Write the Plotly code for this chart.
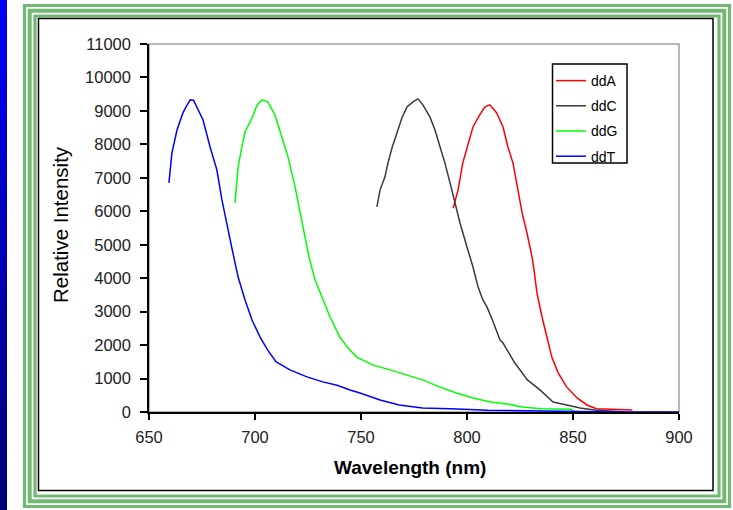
import plotly.graph_objects as go

# ---------------- data ----------------
ddT_wl = [659.4, 660.8, 663.2, 666.0, 668.0, 669.5, 671.0, 672.6, 675.5, 678.8, 682.0, 684.4,
          686.8, 689.0, 692.0, 695.3, 698.6, 702.4, 706.0, 710.0, 716.5, 724.5, 732.0, 738.7,
          744.8, 749.5, 759.0, 768.0, 779.0, 792.0, 810.0, 830.0, 850.0, 870.0, 900.0]
ddT_int = [6850, 7740, 8430, 8940, 9180, 9330, 9320, 9120, 8730, 7920, 7240, 6340,
           5650, 4930, 4040, 3350, 2750, 2240, 1850, 1500, 1260, 1050, 900, 800,
           660, 570, 360, 210, 120, 100, 50, 30, 10, 0, 0]

ddG_wl = [690.6, 692.0, 693.8, 695.3, 698.6, 701.0, 703.3, 706.0, 709.4, 712.7, 715.6, 718.9,
          721.2, 723.6, 725.5, 728.3, 731.6, 735.4, 740.0, 743.9, 748.0, 755.7, 763.7, 771.7,
          779.0, 787.0, 795.0, 803.0, 811.0, 819.0, 826.0, 835.0, 849.0, 851.0]
ddG_int = [6250, 7320, 7920, 8370, 8790, 9180, 9330, 9270, 8880, 8220, 7620, 6730,
           5950, 5230, 4630, 3950, 3440, 2840, 2240, 1910, 1640, 1400, 1260, 1110,
           960, 750, 570, 420, 300, 240, 150, 100, 80, 0]

ddC_wl = [757.5, 759.0, 761.3, 762.7, 764.6, 767.0, 769.3, 771.7, 774.5, 776.9, 779.2, 782.5,
          784.9, 787.3, 789.6, 792.0, 794.3, 796.7, 800.0, 802.8, 805.2, 807.5, 809.4, 812.0,
          815.6, 817.0, 822.5, 828.5, 834.4, 840.6, 847.0, 853.3, 860.0, 869.0, 875.0]
ddC_int = [6130, 6640, 7030, 7440, 7890, 8340, 8790, 9120, 9270, 9360, 9180, 8820,
           8430, 7920, 7440, 6850, 6250, 5650, 4930, 4340, 3740, 3350, 3140, 2750,
           2150, 2060, 1470, 960, 660, 300, 210, 120, 60, 30, 0]

ddA_wl = [793.5, 795.8, 798.0, 800.5, 802.8, 806.0, 808.5, 810.8, 814.0, 817.0, 819.3, 821.7,
          823.6, 826.0, 828.3, 830.7, 831.6, 833.0, 835.4, 837.7, 840.0, 843.0, 847.0, 851.9,
          856.6, 861.0, 870.0, 878.0]
ddA_int = [6100, 6640, 7440, 8040, 8520, 8880, 9120, 9180, 8940, 8520, 7920, 7440,
           6730, 5950, 5350, 4630, 4250, 3560, 2840, 2240, 1640, 1170, 750, 420,
           210, 100, 80, 60]

series_names = ["ddA", "ddC", "ddG", "ddT"]
series_colors = ["#ff0000", "#3a3a3a", "#00ff00", "#0000ff"]
x_ticks = [650, 700, 750, 800, 850, 900]
y_ticks = list(range(0, 11001, 1000))

# ---------------- figure ----------------
W, H = 733, 510
PL, PR, PT, PB = 149, 679, 44, 412  # plot area in pixels

def xp(px):
    return (px - PL) / (PR - PL)

def yp(py):
    return (PB - py) / (PB - PT)

fig = go.Figure()
all_x = [ddA_wl, ddC_wl, ddG_wl, ddT_wl]
all_y = [ddA_int, ddC_int, ddG_int, ddT_int]
for name, color, xs, ys in zip(series_names, series_colors, all_x, all_y):
    fig.add_trace(go.Scatter(x=xs, y=ys, mode="lines", name=name, legendgroup=name,
                             line=dict(color=color, width=1.5)))

FONT = "Liberation Sans, Arial, sans-serif"
shapes = []
# blue gradient strip on the left
n = 30
for i in range(n):
    t = i / (n - 1)
    r, g, b = 0, 0, int(245 - t * (245 - 120))
    y0 = H * i / n
    y1 = H * (i + 1) / n + 0.5
    shapes.append(dict(type="rect", xref="paper", yref="paper",
                       x0=xp(0), x1=xp(7), y0=yp(y0), y1=yp(y1),
                       line=dict(width=0), fillcolor=f"rgb({r},{g},{b})", layer="below"))
# green triple frame
GREEN = "#72b872"
for off, w in [(1.5, 3.2), (6.7, 4.0), (12.0, 3.2)]:
    shapes.append(dict(type="rect", xref="paper", yref="paper",
                       x0=xp(23 + off), x1=xp(731 - off), y0=yp(4 + off), y1=yp(508 - off),
                       line=dict(color=GREEN, width=w), fillcolor="rgba(0,0,0,0)", layer="below"))
# black chart-area border
shapes.append(dict(type="rect", xref="paper", yref="paper",
                   x0=xp(38.5), x1=xp(713), y0=yp(18.5), y1=yp(490.5),
                   line=dict(color="#000000", width=1.5), fillcolor="rgba(0,0,0,0)", layer="below"))
# gray plot-area border (top/right visible)
shapes.append(dict(type="rect", xref="x domain", yref="y domain", x0=0, x1=1, y0=0, y1=1,
                   line=dict(color="#a0a0a0", width=1.5), fillcolor="rgba(0,0,0,0)", layer="below"))
# legend box
shapes.append(dict(type="rect", xref="paper", yref="paper",
                   x0=xp(552.5), x1=xp(627), y0=yp(64), y1=yp(163),
                   line=dict(color="#000000", width=1.5), fillcolor="white", layer="above"))

annotations = [
    dict(text="<b>Wavelength (nm)</b>", xref="paper", yref="paper", x=xp(410), y=yp(467),
         showarrow=False, font=dict(family=FONT, size=19, color="#000000"),
         xanchor="center", yanchor="middle"),
    dict(text="Relative Intensity", xref="paper", yref="paper", x=xp(60), y=yp(225),
         showarrow=False, textangle=-90, font=dict(family=FONT, size=20.5, color="#000000"),
         xanchor="center", yanchor="middle"),
]

fig.update_layout(
    width=W, height=H, autosize=False,
    margin=dict(l=PL, r=W - PR, t=PT, b=H - PB, pad=0),
    paper_bgcolor="white", plot_bgcolor="white",
    shapes=shapes, annotations=annotations,
    font=dict(family=FONT, size=16, color="#222222"),
    showlegend=True,
    legend=dict(x=xp(551), y=yp(65), xanchor="left", yanchor="top",
                bgcolor="rgba(0,0,0,0)", borderwidth=0,
                font=dict(family=FONT, size=14, color="#000000"),
                tracegroupgap=4, itemwidth=30),
    xaxis=dict(range=[650, 900], tickmode="array", tickvals=x_ticks,
               ticktext=[str(v) for v in x_ticks],
               showgrid=False, zeroline=False, showline=True, linecolor="#000000",
               linewidth=1.5, ticks="outside", ticklen=6, tickwidth=1.5, tickcolor="#000000",
               tickfont=dict(family=FONT, size=16.5, color="#222222"), ticklabelstandoff=3),
    yaxis=dict(range=[0, 11000], tickmode="array", tickvals=y_ticks,
               ticktext=[str(v) for v in y_ticks],
               showgrid=False, zeroline=False, showline=True, linecolor="#000000",
               linewidth=1.5, ticks="outside", ticklen=7, tickwidth=1.5, tickcolor="#000000",
               tickfont=dict(family=FONT, size=16.5, color="#222222"), ticklabelstandoff=6),
)

fig.write_html("out.html", config={"displayModeBar": False},
               post_script="document.body.style.margin='0px';document.body.style.overflow='hidden';")
